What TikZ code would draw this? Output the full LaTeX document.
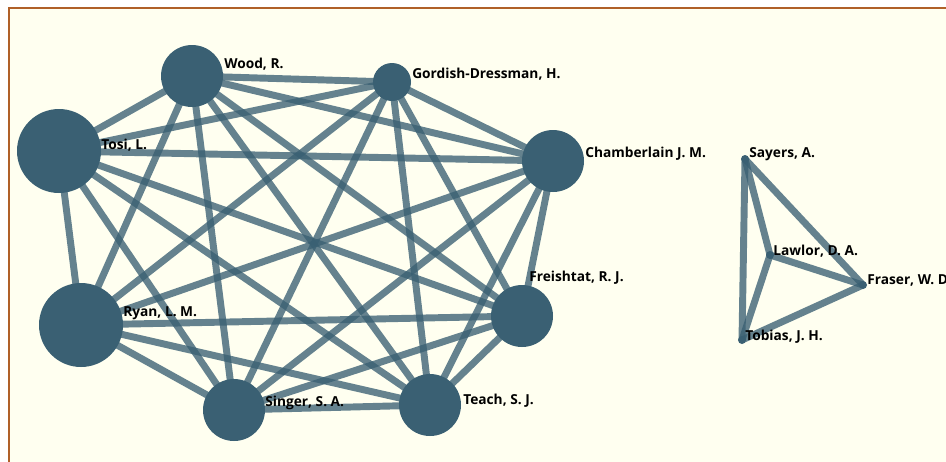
\documentclass[tikz,border=0pt]{standalone}
\usepackage{fontspec}
\setmainfont{Open Sans}
\usepackage{tikz}
\pgfdeclarelayer{edges}
\pgfsetlayers{edges,main}
\definecolor{nodeblue}{RGB}{58,96,115}
\definecolor{paper}{RGB}{255,255,240}
\definecolor{framebrown}{RGB}{176,96,40}

\tikzset{
	author/.style={circle, fill=nodeblue, inner sep=0pt, minimum size=#1},
	tag/.style={anchor=west, inner sep=0pt, text=black, font=\bfseries\fontsize{10.3}{11}\selectfont},
	link/.style={draw=nodeblue, draw opacity=0.78, line width=5.2pt}
}

\begin{document}
\begin{tikzpicture}[x=0.75pt,y=0.75pt,yscale=-1,xscale=1]
		\useasboundingbox (0,0) rectangle (946,461);

		%Shape: Circle (big cluster)
		\node [author=63pt] (tosi) at (59,151) {};
		\node [author=46.5pt] (wood) at (192,76) {};
		\node [author=28.5pt] (gordish) at (392,82) {};
		\node [author=46.5pt] (chamberlain) at (553,161) {};
		\node [author=46.5pt] (freishtat) at (522,316) {};
		\node [author=46.5pt] (teach) at (430,405) {};
		\node [author=46.5pt] (singer) at (234,410) {};
		\node [author=63pt] (ryan) at (81,325) {};
		%Shape: Circle (small cluster)
		\node [author=6pt] (sayers) at (745,159) {};
		\node [author=6pt] (lawlor) at (770,255) {};
		\node [author=6pt] (fraser) at (863,285) {};
		\node [author=6pt] (tobias) at (742,340) {};

		\begin{pgfonlayer}{edges}
		%Frame
		\draw [framebrown, line width=1.5pt, fill=paper] (9,8) rectangle (1000,500);
		%Straight Lines
		\draw [link] (tosi.center) -- (wood.center);
		\draw [link] (tosi.center) -- (gordish.center);
		\draw [link] (tosi.center) -- (chamberlain.center);
		\draw [link] (tosi.center) -- (freishtat.center);
		\draw [link] (tosi.center) -- (teach.center);
		\draw [link] (tosi.center) -- (singer.center);
		\draw [link] (tosi.center) -- (ryan.center);
		\draw [link] (wood.center) -- (gordish.center);
		\draw [link] (wood.center) -- (chamberlain.center);
		\draw [link] (wood.center) -- (freishtat.center);
		\draw [link] (wood.center) -- (teach.center);
		\draw [link] (wood.center) -- (singer.center);
		\draw [link] (wood.center) -- (ryan.center);
		\draw [link] (gordish.center) -- (chamberlain.center);
		\draw [link] (gordish.center) -- (freishtat.center);
		\draw [link] (gordish.center) -- (teach.center);
		\draw [link] (gordish.center) -- (singer.center);
		\draw [link] (gordish.center) -- (ryan.center);
		\draw [link] (chamberlain.center) -- (freishtat.center);
		\draw [link] (chamberlain.center) -- (teach.center);
		\draw [link] (chamberlain.center) -- (singer.center);
		\draw [link] (chamberlain.center) -- (ryan.center);
		\draw [link] (freishtat.center) -- (teach.center);
		\draw [link] (freishtat.center) -- (singer.center);
		\draw [link] (freishtat.center) -- (ryan.center);
		\draw [link] (teach.center) -- (singer.center);
		\draw [link] (teach.center) -- (ryan.center);
		\draw [link] (singer.center) -- (ryan.center);
		%Straight Lines (small cluster)
		\draw [link] (sayers.center) -- (lawlor.center);
		\draw [link] (sayers.center) -- (fraser.center);
		\draw [link] (sayers.center) -- (tobias.center);
		\draw [link] (lawlor.center) -- (fraser.center);
		\draw [link] (lawlor.center) -- (tobias.center);
		\draw [link] (fraser.center) -- (tobias.center);
		\end{pgfonlayer}

		% Text Node
		\node [tag] (ltosi) at (101,145) {Tosi, L.};
		\node [tag] (lwood) at (224,64) {Wood, R.};
		\node [tag] (lgordish) at (412,74) {Gordish-Dressman, H.};
		\node [tag] (lchamberlain) at (585,154) {Chamberlain J. M.};
		\node [tag] (lfreishtat) at (529,278) {Freishtat, R. J.};
		\node [tag] (lteach) at (463,401) {Teach, S. J.};
		\node [tag] (lsinger) at (265,403) {Singer, S. A.};
		\node [tag] (lryan) at (123,313) {Ryan, L. M.};
		\node [tag] (lsayers) at (749,154) {Sayers, A.};
		\node [tag] (llawlor) at (773,251) {Lawlor, D. A.};
		\node [tag] (lfraser) at (867,280) {Fraser, W. D};
		\node [tag] (ltobias) at (745,337) {Tobias, J. H.};
\end{tikzpicture}
\end{document}
